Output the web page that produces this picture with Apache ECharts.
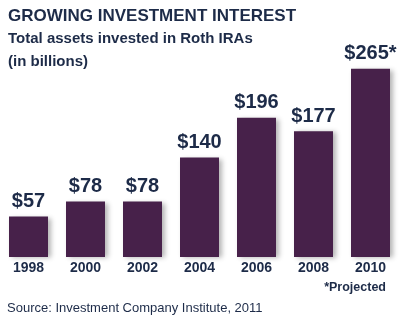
<!DOCTYPE html>
<html>
<head>
<meta charset="utf-8">
<script src="https://cdn.jsdelivr.net/npm/echarts@6/dist/echarts.min.js"></script>
<style>
  html, body { margin: 0; padding: 0; background: #ffffff; }
  #chart { width: 400px; height: 322px; }
</style>
</head>
<body>
<div id="chart"></div>
<script>
// Roth IRA total assets, billions of dollars (2010 is a projection)
const years = ['1998', '2000', '2002', '2004', '2006', '2008', '2010'];
const assets = [57, 78, 78, 140, 196, 177, 265];
const projected = [false, false, false, false, false, false, true];

const navy = '#1d2b48';
const plum = '#47214a';
const font = '"Liberation Sans", Arial, Helvetica, sans-serif';

const chart = echarts.init(document.getElementById('chart'), null, { renderer: 'canvas' });

chart.setOption({
  backgroundColor: '#ffffff',
  animation: false,
  textStyle: { fontFamily: font },
  graphic: [
    {
      type: 'text', left: 8, top: 8,
      style: { text: 'GROWING INVESTMENT INTEREST', fill: navy, font: 'bold 17px ' + font }
    },
    {
      type: 'text', left: 8, top: 31,
      style: { text: 'Total assets invested in Roth IRAs', fill: navy, font: 'bold 15px ' + font }
    },
    {
      type: 'text', left: 8, top: 54,
      style: { text: '(in billions)', fill: navy, font: 'bold 15px ' + font }
    },
    {
      type: 'text', right: 14, top: 281,
      style: { text: '*Projected', fill: navy, font: 'bold 12.5px ' + font }
    },
    {
      type: 'text', left: 7, top: 302,
      style: { text: 'Source: Investment Company Institute, 2011', fill: navy, font: '13px ' + font }
    }
  ],
  grid: { left: -1, right: 1, top: 44, bottom: 65, containLabel: false },
  xAxis: {
    type: 'category',
    data: years,
    axisLine: { show: false },
    axisTick: { show: false },
    axisLabel: { color: navy, fontSize: 14, fontWeight: 'bold', fontFamily: font, margin: 4, interval: 0 }
  },
  yAxis: {
    type: 'value', min: 0, max: 300, show: false,
    splitLine: { show: false }
  },
  series: [{
    type: 'bar',
    data: assets,
    barWidth: 39,
    itemStyle: {
      color: plum,
      shadowColor: 'rgba(0,0,0,0.3)',
      shadowBlur: 5,
      shadowOffsetX: 3,
      shadowOffsetY: 1
    },
    label: {
      show: true,
      position: 'top',
      distance: 5,
      color: navy,
      fontSize: 20,
      fontWeight: 'bold',
      fontFamily: font,
      formatter: p => '$' + p.value + (projected[p.dataIndex] ? '*' : '')
    }
  }]
});
</script>
</body>
</html>
